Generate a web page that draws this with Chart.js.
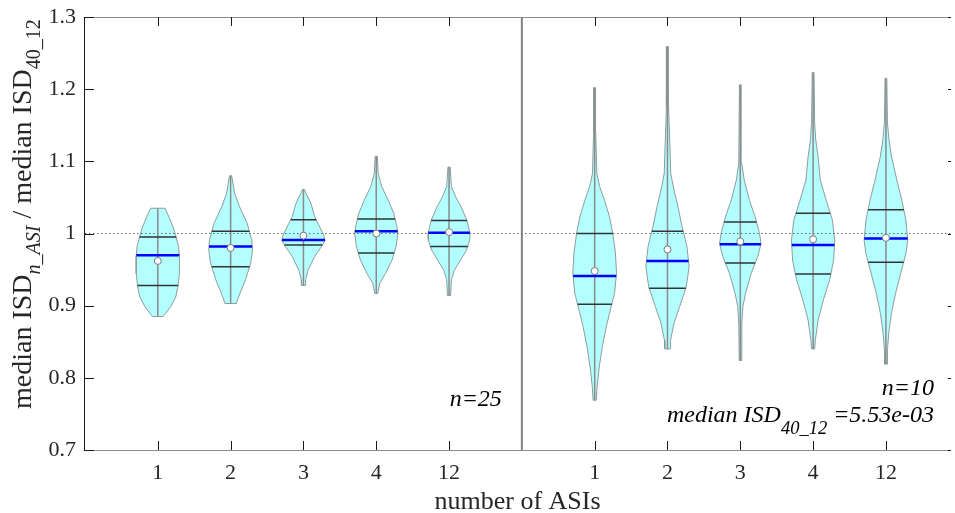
<!DOCTYPE html>
<html>
<head>
<meta charset="utf-8">
<title>median ISD by number of ASIs</title>
<script src="https://cdn.jsdelivr.net/npm/chart.js@4.4.1/dist/chart.umd.min.js"></script>
<style>
  html, body { margin: 0; padding: 0; background: #fff; }
  canvas { display: block; }
</style>
</head>
<body>
<canvas id="violins" width="955" height="513"></canvas>
<script>
// ---- data ----------------------------------------------------------------
const groupLabels = ['1', '2', '3', '4', '12'];
const panelNotes = ['n=25', 'n=10'];
const refMedian = '5.53e-03';

// left panel sits on slots 1..5, right panel on 7..11, divider at 6
const xSlots = [1, 2, 3, 4, 5, 7, 8, 9, 10, 11];
const slotLabels = groupLabels.concat(groupLabels);
const dividerSlot = 6;
const yTickValues = [0.7, 0.8, 0.9, 1.0, 1.1, 1.2, 1.3];

const medians        = [0.970, 0.982, 0.991, 1.003, 1.001, 0.941, 0.962, 0.985, 0.984, 0.993];
const means          = [0.962, 0.980, 0.997, 1.000, 1.002, 0.948, 0.978, 0.989, 0.992, 0.994];
const lowerQuartiles = [0.928, 0.954, 0.984, 0.973, 0.982, 0.902, 0.924, 0.959, 0.944, 0.960];
const upperQuartiles = [0.995, 1.003, 1.019, 1.020, 1.018, 1.000, 1.003, 1.016, 1.028, 1.033];

// density outline of every violin, bottom to top: [value, relative density]
const profiles = [
  [[0.885, .24], [0.889, .35], [0.899, .60], [0.912, .82], [0.926, .92], [0.945, .99], [0.968, .99],
   [0.982, .95], [0.996, .83], [1.009, .70], [1.023, .51], [1.035, .33]],
  [[0.903, .26], [0.912, .36], [0.936, .68], [0.959, .92], [0.977, 1.0], [0.991, .97], [1.014, .76],
   [1.037, .41], [1.056, .18], [1.080, .05]],
  [[0.928, .09], [0.936, .10], [0.949, .21], [0.968, .51], [0.982, .83], [0.990, .99], [0.998, .93],
   [1.012, .70], [1.023, .52], [1.042, .34], [1.056, .11], [1.061, .05]],
  [[0.917, .07], [0.931, .16], [0.945, .43], [0.963, .72], [0.982, .91], [1.000, .99], [1.009, .95],
   [1.028, .80], [1.046, .55], [1.065, .25], [1.083, .09], [1.107, .05]],
  [[0.914, .07], [0.936, .11], [0.949, .24], [0.963, .52], [0.977, .80], [0.991, .95], [1.000, .96],
   [1.019, .81], [1.037, .55], [1.051, .30], [1.065, .11], [1.092, .05]],
  [[0.769, .07], [0.788, .11], [0.815, .21], [0.843, .35], [0.871, .53], [0.899, .76], [0.917, .91],
   [0.945, 1.0], [0.973, .95], [1.000, .83], [1.023, .68], [1.046, .45], [1.065, .23], [1.083, .10],
   [1.140, .05], [1.202, .04]],
  [[0.840, .12], [0.852, .14], [0.876, .30], [0.899, .56], [0.926, .86], [0.954, .99], [0.982, .89],
   [1.009, .67], [1.037, .48], [1.060, .30], [1.083, .15], [1.176, .05], [1.259, .04]],
  [[0.824, .05], [0.876, .07], [0.899, .12], [0.917, .24], [0.945, .50], [0.968, .80], [0.986, .95],
   [1.000, .88], [1.023, .68], [1.046, .42], [1.074, .18], [1.097, .07], [1.206, .04]],
  [[0.840, .07], [0.852, .10], [0.880, .23], [0.908, .47], [0.936, .76], [0.963, .94], [0.991, .99],
   [1.019, .88], [1.046, .60], [1.074, .33], [1.106, .23], [1.130, .12], [1.153, .07], [1.223, .04]],
  [[0.819, .05], [0.839, .07], [0.862, .13], [0.889, .25], [0.917, .44], [0.945, .68], [0.973, .92],
   [0.991, 1.0], [1.019, .91], [1.046, .73], [1.074, .50], [1.106, .26], [1.130, .14], [1.153, .07],
   [1.215, .04]]
];

// ---- helpers ---------------------------------------------------------------
const HALF = 0.30;               // half-width of a violin at density 1, in slot units
const GAP = {x: null, y: null};  // breaks a line dataset into segments
const SERIF = "'Liberation Serif', 'Times New Roman', serif";

function densityAt(profile, v) {
  for (let i = 1; i < profile.length; i++) {
    const [v0, d0] = profile[i - 1];
    const [v1, d1] = profile[i];
    if (v >= v0 && v <= v1) return d0 + (d1 - d0) * (v - v0) / (v1 - v0);
  }
  return 0;
}

function crossBar(i, v) {
  const hw = densityAt(profiles[i], v) * HALF;
  return [{x: xSlots[i] - hw, y: v}, {x: xSlots[i] + hw, y: v}, GAP];
}

const violinSets = profiles.map((prof, i) => {
  const cx = xSlots[i];
  const right = prof.map(([v, d]) => ({x: cx + d * HALF, y: v}));
  const left = prof.slice().reverse().map(([v, d]) => ({x: cx - d * HALF, y: v}));
  const outline = right.concat(left);
  outline.push(outline[0]);
  return {
    data: outline, fill: 'shape', backgroundColor: '#b3ffff',
    borderColor: '#8d9b9b', borderWidth: 1, pointRadius: 0, order: 6
  };
});

const stems = profiles.flatMap((prof, i) => [
  {x: xSlots[i], y: prof[0][0]}, {x: xSlots[i], y: prof[prof.length - 1][0]}, GAP
]);
const quartileBars = xSlots.flatMap((_, i) =>
  crossBar(i, lowerQuartiles[i]).concat(crossBar(i, upperQuartiles[i])));
const medianBars = xSlots.flatMap((_, i) => crossBar(i, medians[i]));
const meanPoints = xSlots.map((s, i) => ({x: s, y: means[i]}));

// ---- axes frame, inward ticks and texts --------------------------------------
function drawRuns(ctx, runs, x, y, align) {
  let total = 0;
  runs.forEach(r => {
    ctx.font = (r.italic ? 'italic ' : '') + r.size + 'px ' + SERIF;
    r.w = ctx.measureText(r.text).width;
    total += r.w;
  });
  let cx = align === 'right' ? x - total : x;
  runs.forEach(r => {
    ctx.font = (r.italic ? 'italic ' : '') + r.size + 'px ' + SERIF;
    ctx.fillText(r.text, cx, y + (r.shift || 0));
    cx += r.w;
  });
}

const framePlugin = {
  id: 'frame',
  afterDraw(chart) {
    const {ctx, chartArea: a, scales: {x, y}} = chart;
    ctx.save();
    ctx.lineWidth = 1;

    ctx.strokeStyle = '#8c8c8c';
    ctx.beginPath();
    ctx.moveTo(a.left, a.top + 0.5);
    ctx.lineTo(a.right + 1, a.top + 0.5);
    ctx.moveTo(a.left, a.bottom + 0.5);
    ctx.lineTo(a.right + 1, a.bottom + 0.5);
    ctx.stroke();

    ctx.strokeStyle = '#1a1a1a';
    ctx.beginPath();
    ctx.moveTo(a.left - 0.5, a.top);
    ctx.lineTo(a.left - 0.5, a.bottom + 1);
    xSlots.forEach(v => {
      const px = Math.round(x.getPixelForValue(v)) + 0.5;
      ctx.moveTo(px, a.bottom);
      ctx.lineTo(px, a.bottom - 9);
      ctx.moveTo(px, a.top);
      ctx.lineTo(px, a.top + 9);
    });
    yTickValues.forEach(v => {
      const py = Math.round(y.getPixelForValue(v)) + 0.5;
      ctx.moveTo(a.left, py);
      ctx.lineTo(a.left + 9, py);
      ctx.moveTo(a.right + 1, py);
      ctx.lineTo(a.right - 2, py);
    });
    ctx.stroke();

    // axis titles
    ctx.fillStyle = '#262626';
    ctx.textBaseline = 'alphabetic';
    ctx.textAlign = 'left';
    ctx.font = '26px ' + SERIF;
    const xt = 'number of ASIs';
    ctx.fillText(xt, (a.left + a.right) / 2 - ctx.measureText(xt).width / 2, 509);

    ctx.save();
    ctx.translate(31, 409);
    ctx.rotate(-Math.PI / 2);
    drawRuns(ctx, [
      {text: 'median ISD', size: 28},
      {text: 'n_ASI', size: 20, italic: true, shift: 9},
      {text: ' / median ISD', size: 28},
      {text: '40_12', size: 20, shift: 9}
    ], 0, 0, 'left');
    ctx.restore();

    // panel notes
    ctx.fillStyle = '#000';
    const xr = x.getPixelForValue(dividerSlot) - 20;
    drawRuns(ctx, [{text: panelNotes[0], size: 24, italic: true}], xr, 406, 'right');
    drawRuns(ctx, [{text: panelNotes[1], size: 24, italic: true}], 934, 395, 'right');
    drawRuns(ctx, [
      {text: 'median ISD', size: 24, italic: true},
      {text: '40_12', size: 18.5, italic: true, shift: 12},
      {text: ' =' + refMedian, size: 24, italic: true}
    ], 934, 422, 'right');
    ctx.restore();
  }
};

// ---- chart -------------------------------------------------------------------
new Chart(document.getElementById('violins'), {
  type: 'line',
  data: {
    datasets: [
      ...violinSets,
      {data: [{x: 0, y: 1}, {x: 12, y: 1}], borderColor: '#666', borderWidth: 1.2,
       borderDash: [1.5, 2.5], pointRadius: 0, order: 5},
      {data: [{x: dividerSlot, y: 0.7}, {x: dividerSlot, y: 1.3}], borderColor: '#808080',
       borderWidth: 2, pointRadius: 0, order: 4},
      {data: stems, borderColor: '#8a8a8a', borderWidth: 1.5, pointRadius: 0, order: 3},
      {data: quartileBars, borderColor: '#333', borderWidth: 1.5, pointRadius: 0, order: 2},
      {data: medianBars, borderColor: '#0000ff', borderWidth: 2.5, pointRadius: 0, order: 1},
      {data: meanPoints, showLine: false, pointRadius: 3.5, pointBackgroundColor: '#fff',
       pointBorderColor: '#7a7a7a', pointBorderWidth: 1, order: 0}
    ]
  },
  options: {
    responsive: false,
    animation: false,
    spanGaps: false,
    layout: {padding: {top: 17, right: 1, left: 0, bottom: 0}},
    plugins: {legend: {display: false}, tooltip: {enabled: false}},
    scales: {
      x: {
        type: 'linear', min: 0, max: 11.88,
        afterFit: s => { s.height = 63; s.paddingLeft = 0; s.paddingRight = 0; },
        afterBuildTicks: s => { s.ticks = xSlots.map(v => ({value: v})); },
        grid: {display: false, drawTicks: false},
        border: {display: false},
        ticks: {
          autoSkip: false, maxRotation: 0, padding: 10, color: '#262626',
          font: {family: SERIF, size: 22},
          callback: v => slotLabels[xSlots.indexOf(v)]
        }
      },
      y: {
        min: 0.7, max: 1.3,
        afterFit: s => { s.width = 85; s.paddingTop = 0; s.paddingBottom = 0; },
        afterBuildTicks: s => { s.ticks = yTickValues.map(v => ({value: v})); },
        grid: {display: false, drawTicks: false},
        border: {display: false},
        ticks: {
          padding: 9, color: '#262626',
          font: {family: SERIF, size: 22},
          callback: v => String(+v.toFixed(1))
        }
      }
    }
  },
  plugins: [framePlugin]
});
</script>
</body>
</html>
